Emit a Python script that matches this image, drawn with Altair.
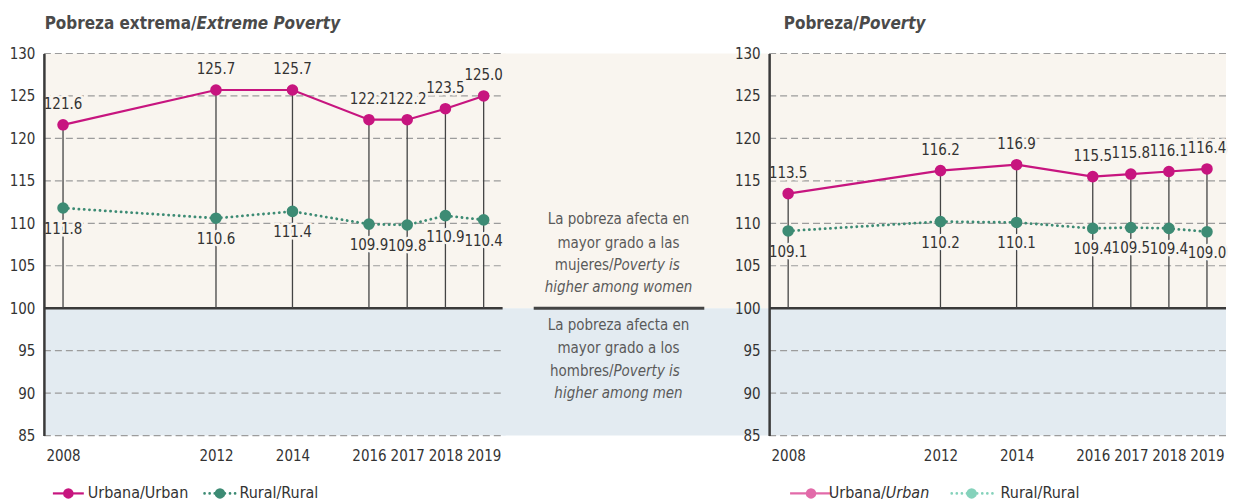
import altair as alt
import pandas as pd

# ---------------- data ----------------
years = [2008, 2012, 2014, 2016, 2017, 2018, 2019]
ext_urban = [121.6, 125.7, 125.7, 122.2, 122.2, 123.5, 125.0]
ext_rural = [111.8, 110.6, 111.4, 109.9, 109.8, 110.9, 110.4]
pov_urban = [113.5, 116.2, 116.9, 115.5, 115.8, 116.1, 116.4]
pov_rural = [109.1, 110.2, 110.1, 109.4, 109.5, 109.4, 109.0]
y_ticks = [85, 90, 95, 100, 105, 110, 115, 120, 125, 130]
grid_vals = [85, 90, 95, 105, 110, 115, 120, 125, 130]
parity = [100]
bands = [{"lo": 100, "hi": 130, "zone": "women"}, {"lo": 85, "hi": 100, "zone": "men"}]

# ---------------- style ----------------
FONT = "'Liberation Sans Narrow', 'DejaVu Sans Condensed', sans-serif"
BEIGE = "#f9f5ef"
BLUE = "#e3ebf1"
URB = "#c7157f"
RUR = "#3d8b74"
URB_L = "#e26aa9"
RUR_L = "#85d2bb"
TXT = "#333333"
FS = 15
W1, WM, W2, H = 460, 267, 458, 383

yscale = alt.Scale(domain=[85, 130], nice=False, zero=False)
xscale = alt.Scale(domain=[2007.5, 2019.5], nice=False, zero=False)
yaxis = alt.Axis(title=None, values=y_ticks, grid=False, ticks=False, domain=True,
                 domainColor="#3a3a3a", domainWidth=2.5, labelFont=FONT,
                 labelFontSize=FS, labelColor=TXT, labelPadding=9, zindex=1)
xaxis = alt.Axis(title=None, values=years, format="d", grid=False, ticks=False,
                 domain=False, labelFont=FONT, labelFontSize=FS, labelColor=TXT,
                 labelPadding=13, labelOverlap=False, zindex=1)
zone_color = alt.Color("zone:N", scale=alt.Scale(domain=["women", "men"], range=[BEIGE, BLUE]),
                       legend=None)
one = alt.Data(values=[{}])


def txt(text, x, y, size=16, weight="normal", style="normal", align="left",
        color=TXT, baseline="alphabetic"):
    return alt.Chart(one).mark_text(
        text=text, font=FONT, fontSize=size, fontWeight=weight, fontStyle=style,
        align=align, baseline=baseline, color=color
    ).encode(x=alt.value(x), y=alt.value(y))


def legend_item(x1, x2, xc, color, dotted, y=441):
    kw = dict(strokeDash=[0.1, 5], strokeCap="round", strokeWidth=2.6) if dotted else dict(strokeWidth=2.2)
    line = alt.Chart(one).mark_rule(color=color, **kw).encode(
        x=alt.value(x1), x2=alt.value(x2), y=alt.value(y))
    dot = alt.Chart(one).mark_circle(size=110, color=color, opacity=1).encode(
        x=alt.value(xc), y=alt.value(y))
    return line + dot


def panel(urban, rural, W, titles, legend, bg_extra=0):
    df = pd.DataFrame({"year": years, "urban": urban, "rural": rural})
    base = alt.Chart(df)
    X = alt.X("year:Q", scale=xscale, axis=xaxis)

    def Y(f):
        return alt.Y(f, scale=yscale, axis=yaxis)

    bg = alt.Chart(alt.Data(values=bands)).mark_rect().encode(
        y=Y("hi:Q"), y2="lo:Q", x=alt.value(0), x2=alt.value(W + bg_extra), color=zone_color)
    grid = alt.Chart(pd.DataFrame({"v": grid_vals})).mark_rule(
        color="#9c9c9c", strokeDash=[7, 4], strokeWidth=1.2).encode(
        y=Y("v:Q"), x=alt.value(0), x2=alt.value(W))
    base100 = alt.Chart(pd.DataFrame({"v": parity})).mark_rule(
        color="#3a3a3a", strokeWidth=2.5).encode(y=Y("v:Q"), x=alt.value(0), x2=alt.value(W))
    stems = base.mark_rule(color="#444444", strokeWidth=1.3).encode(
        x=X, y=Y("urban:Q"), y2=alt.datum(100))
    rline = base.mark_line(color=RUR, strokeWidth=2.8, strokeDash=[0.1, 5.2],
                           strokeCap="round").encode(x=X, y=Y("rural:Q"))
    uline = base.mark_line(color=URB, strokeWidth=2.2).encode(x=X, y=Y("urban:Q"))
    rpts = base.mark_circle(size=135, color=RUR, opacity=1).encode(x=X, y=Y("rural:Q"))
    upts = base.mark_circle(size=135, color=URB, opacity=1).encode(x=X, y=Y("urban:Q"))

    def labels(field, dy):
        halo = base.mark_text(font=FONT, fontSize=FS, dy=dy, color=BEIGE, stroke=BEIGE,
                              strokeWidth=5, strokeJoin="round").encode(
            x=X, y=Y(f"{field}:Q"), text=alt.Text(f"{field}:Q", format=".1f"))
        lab = base.mark_text(font=FONT, fontSize=FS, dy=dy, color=TXT).encode(
            x=X, y=Y(f"{field}:Q"), text=alt.Text(f"{field}:Q", format=".1f"))
        return halo + lab

    layers = [bg, grid, base100, stems, rline, uline, rpts, upts,
              labels("urban", -21), labels("rural", 21)]
    layers += titles + legend
    return alt.layer(*layers).properties(width=W, height=H)


TS = 17
left = panel(
    ext_urban, ext_rural, W1,
    [txt("Pobreza extrema/", 153, -25, size=TS, weight="bold", align="right", color="#4a4a4a"),
     txt("Extreme Poverty", 153, -25, size=TS, weight="bold", style="italic", color="#4a4a4a")],
    [legend_item(9, 40, 24.5, URB, False), txt("Urbana/Urban", 44, 441, baseline="middle"),
     legend_item(161, 192, 176.5, RUR, True), txt("Rural/Rural", 196, 441, baseline="middle")],
    bg_extra=3,
)

right = panel(
    pov_urban, pov_rural, W2,
    [txt("Pobreza/", 90, -25, size=TS, weight="bold", align="right", color="#4a4a4a"),
     txt("Poverty", 90, -25, size=TS, weight="bold", style="italic", color="#4a4a4a")],
    [legend_item(21, 63, 42, URB_L, False),
     txt("Urbana/", 117, 441, align="right", baseline="middle"),
     txt("Urban", 117, 441, style="italic", baseline="middle"),
     legend_item(183, 225, 203, RUR_L, True), txt("Rural/Rural", 232, 441, baseline="middle")],
)

# middle explanatory column
mid_bg = alt.Chart(alt.Data(values=bands)).mark_rect().encode(
    y=alt.Y("hi:Q", scale=yscale, axis=None), y2="lo:Q",
    x=alt.value(0), x2=alt.value(WM + 2), color=zone_color)
mid_line = alt.Chart(pd.DataFrame({"v": parity})).mark_rule(
    color="#444444", strokeWidth=3).encode(
    y=alt.Y("v:Q", scale=yscale, axis=None), x=alt.value(31), x2=alt.value(202))
MC = "#5a5a5a"
MS = 15
mid_txt = [
    txt("La pobreza afecta en", 116, 171, size=MS, color=MC, align="center"),
    txt("mayor grado a las", 116, 195, size=MS, color=MC, align="center"),
    txt("mujeres/", 111, 217, size=MS, color=MC, align="right"),
    txt("Poverty is", 111, 217, size=MS, color=MC, style="italic"),
    txt("higher among women", 116, 239, size=MS, color=MC, style="italic", align="center"),
    txt("La pobreza afecta en", 116, 277, size=MS, color=MC, align="center"),
    txt("mayor grado a los", 116, 300, size=MS, color=MC, align="center"),
    txt("hombres/", 111, 323, size=MS, color=MC, align="right"),
    txt("Poverty is", 111, 323, size=MS, color=MC, style="italic"),
    txt("higher among men", 116, 345, size=MS, color=MC, style="italic", align="center"),
]
middle = alt.layer(mid_bg, mid_line, *mid_txt).properties(width=WM, height=H)

chart = alt.hconcat(left, middle, right, spacing=0, bounds="flush").configure_view(
    stroke=None).properties(background="white",
                            padding={"top": 6, "left": 1, "right": 0, "bottom": 0})

chart.save("out.html", embed_options={"renderer": "svg", "actions": False})
